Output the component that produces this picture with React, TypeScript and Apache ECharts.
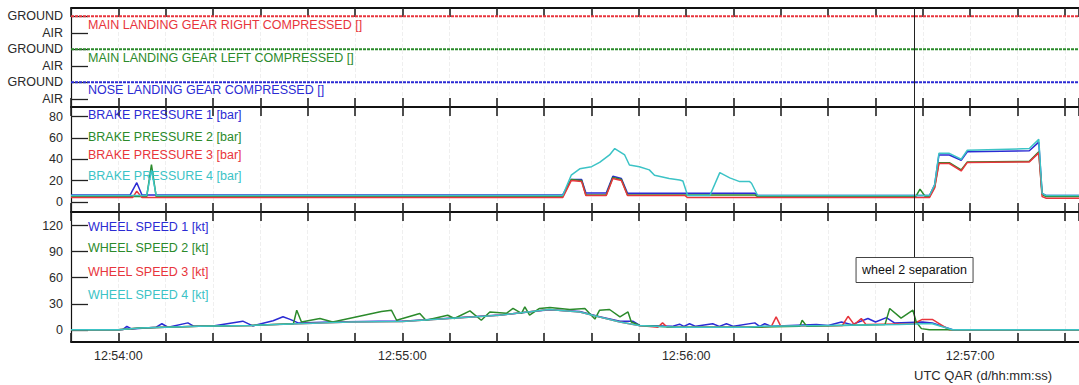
import React, { useEffect, useRef } from "react";
import * as echarts from "echarts";

// ---- time axis (seconds relative to 12:54:00) ----
const BASE_SECONDS = 12 * 3600 + 54 * 60;
const X_MIN = -10;
const X_MAX = 203;
const X_STEP = 10;
const CURSOR_TIME = 168.25;
const CURSOR_LABEL = "wheel 2 separation";
const X_TITLE = "UTC QAR (d/hh:mm:ss)";

// ---- landing gear panel (state levels: 0/1 nose, 2/3 left, 4/5 right; odd = GROUND) ----
const GEAR_LEVELS = [0, 1, 2, 3, 4, 5];
const GEAR_LEVEL_NAMES = ["AIR", "GROUND", "AIR", "GROUND", "AIR", "GROUND"];
const GEAR_NAMES = [
  "MAIN LANDING GEAR RIGHT COMPRESSED []",
  "MAIN LANDING GEAR LEFT COMPRESSED []",
  "NOSE LANDING GEAR COMPRESSED []",
];
const GEAR_RIGHT: [number, number][] = [[-10, 5], [203, 5]];
const GEAR_LEFT: [number, number][] = [[-10, 3], [203, 3]];
const GEAR_NOSE: [number, number][] = [[-10, 1], [203, 1]];

// ---- brake pressure panel [bar] ----
const BRAKE_NAMES = ["BRAKE PRESSURE 1 [bar]", "BRAKE PRESSURE 2 [bar]", "BRAKE PRESSURE 3 [bar]", "BRAKE PRESSURE 4 [bar]"];
const BRAKE_TICKS = [0, 20, 40, 60, 80];
const BRAKE_1: [number, number][] = [
  [-10, 6.5], [2.5, 6.5], [3.9, 18], [5, 6.5], [93.9, 6.5], [95.7, 21], [97.9, 21], [98.8, 8.4], [103.1, 8.4],
  [104.5, 24], [106.3, 22], [107.6, 8], [119.7, 8], [134.5, 8], [135.1, 6], [169, 6], [171.4, 6], [172.5, 16],
  [173.4, 44], [175.6, 44], [178.1, 39], [179.4, 47], [192.5, 48], [194.5, 56], [195.2, 8], [196, 6], [203, 6],
];
const BRAKE_2: [number, number][] = [
  [-10, 5], [6, 5], [7, 35], [8, 5], [93.9, 5], [95.7, 21], [97.9, 20], [98.8, 6.5], [103.1, 6.5], [104.5, 23],
  [106.3, 21], [107.6, 6.5], [119.7, 6.5], [134.5, 6.5], [135.1, 5], [168.5, 5], [169.4, 12], [170.5, 5],
  [171.4, 5], [172.5, 14], [173.4, 36.8], [175.6, 36.8], [178.1, 30], [179.4, 37.5], [192.5, 38], [194.5, 47],
  [195.2, 7], [196, 5], [203, 5],
];
const BRAKE_3: [number, number][] = [
  [-10, 4], [3, 4], [3.9, 10], [5, 4], [93.9, 4], [95.7, 20], [97.9, 19], [98.8, 6], [103.1, 6], [104.5, 22],
  [106.3, 20], [107.6, 6], [119.7, 6], [120.3, 4], [168.5, 4], [171.4, 4], [172.5, 13], [173.4, 36], [175.6, 36],
  [178.1, 29], [179.4, 37], [192.5, 37.5], [194.5, 46], [195.2, 5], [196, 3.5], [203, 3.5],
];
const BRAKE_4: [number, number][] = [
  [-10, 6], [6, 6], [7, 30], [8, 6], [93.9, 6], [95.7, 25], [97.5, 31], [100, 33], [101.7, 37], [103.8, 44],
  [104.9, 50], [107, 44], [108, 34.6], [110.1, 33], [112.2, 30], [113.3, 25], [116.4, 22], [118.6, 20.6],
  [119.3, 19.6], [120.3, 6], [125, 6], [127.1, 27.4], [129.2, 22.5], [131.3, 19], [133.4, 19], [133.8, 17.5],
  [135.1, 6], [171.4, 6], [172.5, 16], [173.4, 45.5], [175.6, 45.5], [178.1, 40], [179.4, 48.4], [192.5, 50],
  [194.5, 58.6], [195.2, 8], [196, 6], [203, 6],
];

// ---- wheel speed panel [kt] ----
const WHEEL_NAMES = ["WHEEL SPEED 1 [kt]", "WHEEL SPEED 2 [kt]", "WHEEL SPEED 3 [kt]", "WHEEL SPEED 4 [kt]"];
const WHEEL_TICKS = [0, 30, 60, 90, 120];
const WHEEL_1: [number, number][] = [
  [-10, 0], [0, 0], [1, 0.5], [1.8, 4], [2.8, 1], [8, 3], [9.2, 7], [10.5, 3], [14.7, 8], [16, 4], [20, 4.5],
  [26.3, 10], [28.4, 4.5], [32.7, 10.5], [34.8, 15], [36.3, 12], [38, 8], [45, 9], [55, 10], [60, 10],
  [80.6, 17], [91, 23], [97.5, 21], [101.7, 15], [106, 10], [108.7, 10], [110.2, 5], [117, 4], [118.6, 6.5],
  [119.5, 4], [120.7, 7], [122, 4], [125.6, 7], [127, 4], [128.5, 7], [130, 4], [134.5, 8], [135.5, 4],
  [136.6, 7], [138, 4], [147.5, 6], [150, 5], [152.8, 9], [155, 6], [158.4, 13], [160, 9], [162.3, 14],
  [164, 8], [169.9, 9], [172, 8], [176.3, 0], [203, 0],
];
const WHEEL_2: [number, number][] = [
  [-10, 0], [0, 0], [4.6, 2], [17, 4], [28, 5], [37, 7], [37.7, 22.6], [38.7, 9], [42.6, 13], [45.3, 9],
  [55.6, 21], [57.7, 22.6], [58.8, 11], [63.7, 18.9], [65, 11], [69.6, 16.8], [71, 13], [74.3, 21.8],
  [76.7, 11], [78.5, 20.6], [82, 19], [83.4, 24.6], [85.2, 19], [85.9, 26.5], [86.9, 16.8], [89, 24.6],
  [91.2, 25.7], [95.4, 23.4], [98.6, 24.6], [100.7, 12.4], [101.7, 22.6], [103.8, 23.4], [106, 15],
  [107.7, 20.6], [108.4, 9], [110.2, 5], [118, 3], [133, 3], [144, 4], [144.5, 11], [145.5, 4], [162, 6],
  [163, 24.6], [165.4, 13.5], [167.9, 22.6], [168.6, 9], [169.7, 1.4], [171.4, 0], [203, 0],
];
const WHEEL_3: [number, number][] = [
  [-10, 0], [0, 0], [4.6, 2], [17, 4], [28, 5], [38, 7], [49, 9], [60, 9.5], [80.6, 16.8], [91, 23.4],
  [97.5, 20.6], [101.7, 14.8], [106, 9], [110, 5], [114, 3], [115, 8], [116, 3], [133, 3], [138, 4], [139, 15],
  [140, 4], [153, 5], [154.2, 15.6], [155.5, 6], [157, 13], [158, 6], [168, 7], [169.9, 12], [172, 12],
  [175.6, 0], [203, 0],
];
const WHEEL_4: [number, number][] = [
  [-10, 0], [0, 0], [4.6, 2], [17, 4], [28, 5], [38, 7], [49, 9], [60, 9.5], [80.6, 16.8], [91, 23.4],
  [97.5, 20.6], [101.7, 14.8], [106, 9], [110, 5], [118, 3], [133, 3], [136, 4], [150, 5], [165, 6], [170, 7],
  [172, 7], [176.3, 0], [203, 0],
];

const COLORS = ["#2b2bd3", "#2b8a2b", "#e8353c", "#3cc3c6"];
const FONT = "'Liberation Sans', Arial, sans-serif";
const TEXT_COLOR = "#2a2a2a";

function fmtTime(v: number): string {
  if (Math.round(v) % 60 !== 0) return "";
  const s = BASE_SECONDS + Math.round(v);
  const h = Math.floor(s / 3600);
  const m = Math.floor((s % 3600) / 60);
  const sec = s % 60;
  const p = (n: number) => String(n).padStart(2, "0");
  return `${p(h)}:${p(m)}:${p(sec)}`;
}

export default function App() {
  const ref = useRef<HTMLDivElement>(null);

  useEffect(() => {
    document.body.style.margin = "0";
    if (!ref.current) return;
    const chart = echarts.init(ref.current, undefined, { renderer: "svg" });

    const grids = [
      { left: 71, right: 0, top: 8, height: 99 },
      { left: 71, right: 0, top: 107, height: 105 },
      { left: 71, right: 0, top: 212, height: 130 },
    ];

    const xAxes: any[] = [];
    grids.forEach((_, gi) => {
      ["bottom", "top"].forEach((pos) => {
        const labeled = gi === 2 && pos === "bottom";
        xAxes.push({
          type: "value",
          gridIndex: gi,
          position: pos,
          min: X_MIN,
          max: X_MAX,
          interval: X_STEP,
          axisLine: { show: true, onZero: false, lineStyle: { color: "#111", width: 2 } },
          axisTick: { show: true, inside: true, length: 9, lineStyle: { color: "#222", width: 1.6 } },
          axisLabel: {
            show: labeled,
            formatter: (v: number) => fmtTime(v),
            color: TEXT_COLOR,
            fontFamily: FONT,
            fontSize: 12.5,
            margin: 7,
            showMaxLabel: false,
          },
          splitLine: { show: pos === "bottom", lineStyle: { color: "#efefef", width: 1, type: "dashed" } },
        });
      });
    });

    const yLabelStyle = { color: TEXT_COLOR, fontFamily: FONT, fontSize: 12.5, margin: 8 };
    const yLine = { show: true, onZero: false, lineStyle: { color: "#111", width: 1.2 } };
    const yTick = { show: true, inside: true, length: 17, lineStyle: { color: "#222", width: 1.3 } };

    const yAxes: any[] = [
      {
        type: "value",
        gridIndex: 0,
        min: -0.5,
        max: 5.5,
        axisLine: yLine,
        axisTick: { ...yTick, customValues: GEAR_LEVELS },
        axisLabel: {
          ...yLabelStyle,
          customValues: GEAR_LEVELS,
          formatter: (v: number) => GEAR_LEVEL_NAMES[Math.round(v)] ?? "",
        },
        splitLine: { show: false },
      },
      {
        type: "value",
        gridIndex: 1,
        min: -9.5,
        max: 89,
        axisLine: yLine,
        axisTick: { ...yTick, customValues: BRAKE_TICKS },
        axisLabel: { ...yLabelStyle, customValues: BRAKE_TICKS },
        splitLine: { show: false },
      },
      {
        type: "value",
        gridIndex: 2,
        min: -14,
        max: 135.6,
        axisLine: yLine,
        axisTick: { ...yTick, customValues: WHEEL_TICKS },
        axisLabel: { ...yLabelStyle, customValues: WHEEL_TICKS },
        splitLine: { show: false },
      },
    ];

    const cursorLine = {
      silent: true,
      symbol: ["none", "none"],
      label: { show: false },
      lineStyle: { color: "#222", width: 1, type: "solid" },
      data: [{ xAxis: CURSOR_TIME }],
    };

    const line = (name: string, data: any[], color: string, xi: number, yi: number, width = 1.5, mark = false) => ({
      type: "line",
      name,
      data,
      xAxisIndex: xi,
      yAxisIndex: yi,
      showSymbol: false,
      symbol: "none",
      lineStyle: { color, width },
      itemStyle: { color },
      ...(mark ? { markLine: cursorLine } : {}),
    });

    const gearColors = [COLORS[2], COLORS[1], COLORS[0]];
    const gearLine = (name: string, data: any[], color: string, mark = false) => ({
      ...line(name, data, color, 0, 0, 2, mark),
      lineStyle: { color, width: 2, type: [3, 1] },
    });
    const series: any[] = [
      gearLine(GEAR_NAMES[0], GEAR_RIGHT, gearColors[0], true),
      gearLine(GEAR_NAMES[1], GEAR_LEFT, gearColors[1]),
      gearLine(GEAR_NAMES[2], GEAR_NOSE, gearColors[2]),
      line(BRAKE_NAMES[0], BRAKE_1, COLORS[0], 2, 1, 1.5, true),
      line(BRAKE_NAMES[1], BRAKE_2, COLORS[1], 2, 1),
      line(BRAKE_NAMES[2], BRAKE_3, COLORS[2], 2, 1),
      line(BRAKE_NAMES[3], BRAKE_4, COLORS[3], 2, 1),
      line(WHEEL_NAMES[0], WHEEL_1, COLORS[0], 4, 2, 1.5, true),
      line(WHEEL_NAMES[2], WHEEL_3, COLORS[2], 4, 2),
      line(WHEEL_NAMES[1], WHEEL_2, COLORS[1], 4, 2),
      line(WHEEL_NAMES[3], WHEEL_4, COLORS[3], 4, 2),
    ];

    chart.setOption({
      animation: false,
      grid: grids,
      xAxis: xAxes,
      yAxis: yAxes,
      series,
    });

    const label = (text: string, x: number, y: number, color: string) => ({
      type: "text",
      x,
      y,
      z: 50,
      style: { text, fill: color, font: `12.5px ${FONT}`, textVerticalAlign: "middle", verticalAlign: "middle" },
    });

    const cx = chart.convertToPixel({ xAxisIndex: 4 } as any, CURSOR_TIME) as number;
    const graphics: any[] = [
      label(GEAR_NAMES[0], 88, 25, gearColors[0]),
      label(GEAR_NAMES[1], 88, 58, gearColors[1]),
      label(GEAR_NAMES[2], 88, 90, gearColors[2]),
      label(BRAKE_NAMES[0], 88, 115, COLORS[0]),
      label(BRAKE_NAMES[1], 88, 137, COLORS[1]),
      label(BRAKE_NAMES[2], 88, 155, COLORS[2]),
      label(BRAKE_NAMES[3], 88, 176, COLORS[3]),
      label(WHEEL_NAMES[0], 88, 227, COLORS[0]),
      label(WHEEL_NAMES[1], 88, 248, COLORS[1]),
      label(WHEEL_NAMES[2], 88, 272, COLORS[2]),
      label(WHEEL_NAMES[3], 88, 295, COLORS[3]),
      {
        type: "rect",
        z: 60,
        shape: { x: cx - 58.5, y: 257.5, width: 117, height: 25 },
        style: { fill: "#ffffff", stroke: "#444", lineWidth: 1 },
      },
      {
        type: "text",
        z: 61,
        x: cx,
        y: 270,
        style: {
          text: CURSOR_LABEL,
          fill: "#111",
          font: `12.5px ${FONT}`,
          textAlign: "center",
          align: "center",
          textVerticalAlign: "middle",
          verticalAlign: "middle",
        },
      },
      {
        type: "text",
        z: 50,
        x: 983,
        y: 375,
        style: {
          text: X_TITLE,
          fill: TEXT_COLOR,
          font: `13px ${FONT}`,
          textAlign: "center",
          align: "center",
          textVerticalAlign: "middle",
          verticalAlign: "middle",
        },
      },
    ];
    chart.setOption({ graphic: graphics });

    return () => chart.dispose();
  }, []);

  return <div ref={ref} style={{ width: 1079, height: 385 }} />;
}
